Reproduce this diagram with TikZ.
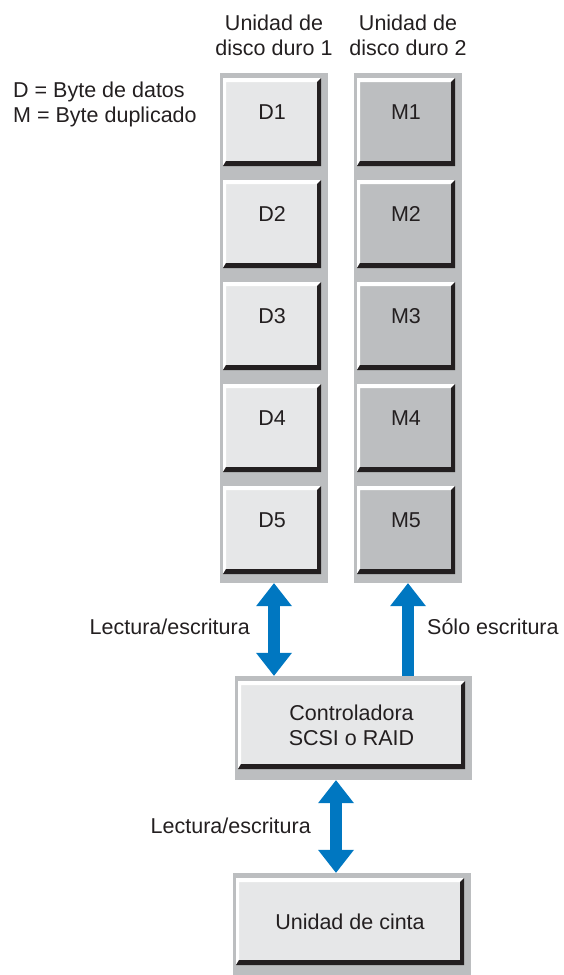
\documentclass[tikz,border=0pt]{standalone}
\usepackage{fontspec}
\setmainfont{Liberation Sans}
\usetikzlibrary{arrows.meta}
\definecolor{framegray}{HTML}{BCBEC0}
\definecolor{faceD}{HTML}{E6E7E8}
\definecolor{faceM}{HTML}{BCBEC0}
\definecolor{shadowc}{HTML}{231F20}
\definecolor{arrowblue}{HTML}{0077C1}
\tikzset{
  txt/.style={font=\fontsize{21.5}{25}\selectfont, inner sep=0pt, text=shadowc},
  framebox/.style={rectangle, fill=framegray, draw=none, inner sep=0pt},
  bev/.style={path picture={
    \path (path picture bounding box.north west) coordinate (pnw)
          (path picture bounding box.south east) coordinate (pse)
          (path picture bounding box.north east) coordinate (pne)
          (path picture bounding box.south west) coordinate (psw);
    \fill[white] (pnw) -- (pne) -- ([xshift=-4pt,yshift=-4pt]pne) -- ([xshift=3pt,yshift=-4pt]pnw)
       -- ([xshift=3pt,yshift=5pt]psw) -- (psw) -- cycle;
    \fill[shadowc] (psw) -- (pse) -- (pne) -- ([xshift=-4pt,yshift=-4pt]pne)
       -- ([xshift=-4pt,yshift=5pt]pse) -- ([xshift=3pt,yshift=5pt]psw) -- cycle;
  }},
  btn/.style={rectangle, draw=none, bev, txt, minimum width=98pt, minimum height=88pt,
     text height=15.4pt, text depth=20pt},
  wide/.style={rectangle, draw=none, bev, txt, fill=faceD, align=center},
  lbl/.style={txt, text height=15.4pt, text depth=0pt},
  blarrow/.style={draw=arrowblue, line width=12pt},
  tipb/.style={}
}
\begin{document}
\begin{tikzpicture}[x=1pt,y=-1pt]
\useasboundingbox (0,0) rectangle (563,975);
% headers and legend
\node[txt, align=center] (h1) at (274,35) {Unidad de\\disco duro 1};
\node[txt, align=center] (h2) at (408,35) {Unidad de\\disco duro 2};
\node[txt, align=left, anchor=west] (legend) at (13,104) {D = Byte de datos\\M = Byte duplicado};
% disk columns
\node[framebox, minimum width=108pt, minimum height=510pt] (col1) at (274,328) {};
\node[framebox, minimum width=108pt, minimum height=510pt] (col2) at (408,328) {};
\foreach \i/\y in {1/122,2/224,3/326,4/428,5/530}{
  \node[btn, fill=faceD] (d\i) at (272,\y) {D\i};
  \node[btn, fill=faceM] (m\i) at (406,\y) {M\i};
}
% controller
\node[framebox, minimum width=237pt, minimum height=104pt] (ctrlf) at (353.5,728) {};
\node[wide, minimum width=227pt, minimum height=88pt] (ctrl) at (351.5,725) {Controladora\\SCSI o RAID};
% tape
\node[framebox, minimum width=238pt, minimum height=102pt] (tapef) at (352,924) {};
\node[wide, minimum width=228pt, minimum height=87pt, text height=15.4pt, text depth=0pt] (tape) at (350,921.5) {Unidad de cinta};
% arrows
\draw[blarrow, {Triangle[width=36pt,length=23pt,line width=0pt]}-{Triangle[width=36pt,length=23pt,line width=0pt]}]
  (col1.south) -- (col1.south |- ctrlf.north);
\draw[blarrow, -{Triangle[width=36pt,length=23pt,line width=0pt]}]
  (col2.south |- ctrlf.north) -- (col2.south);
\draw[blarrow, {Triangle[width=36pt,length=23pt,line width=0pt]}-{Triangle[width=36pt,length=23pt,line width=0pt]}]
  ([xshift=-17.5pt]ctrlf.south) -- ([xshift=-17.5pt]ctrlf.south |- tapef.north);
% arrow labels
\node[lbl, anchor=east] (l1) at (250,627) {Lectura/escritura};
\node[lbl, anchor=west] (l2) at (427,627) {Sólo escritura};
\node[lbl, anchor=east] (l3) at (311,826) {Lectura/escritura};
\end{tikzpicture}
\end{document}
